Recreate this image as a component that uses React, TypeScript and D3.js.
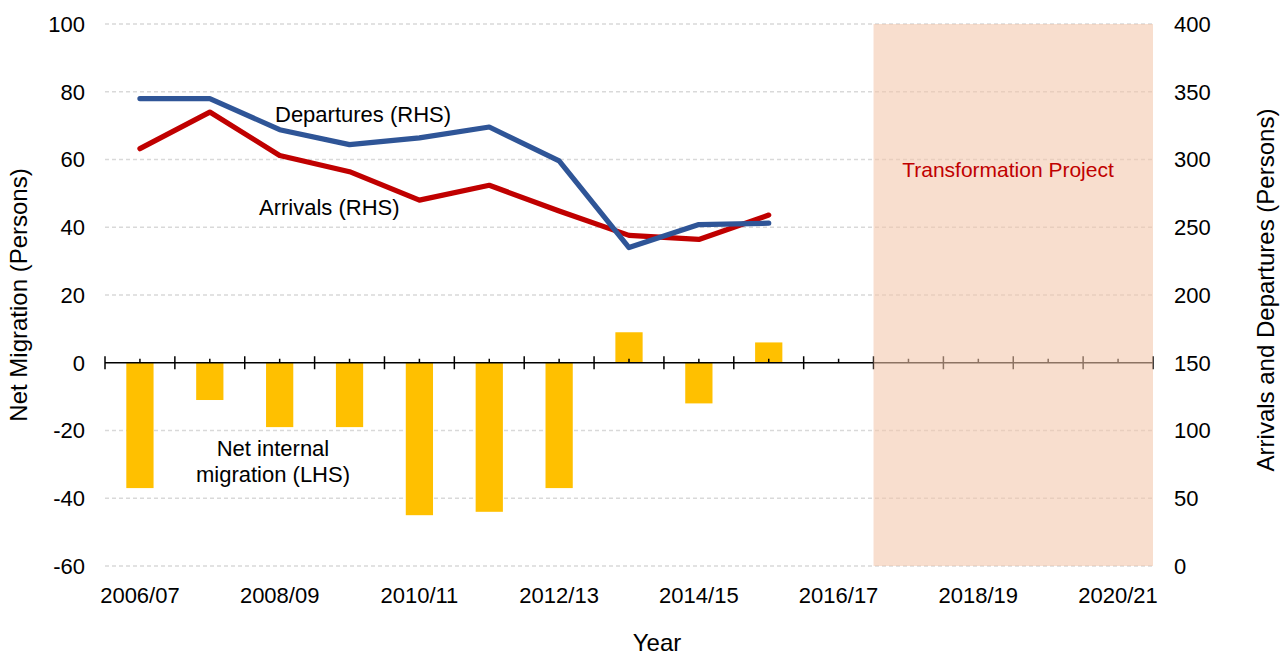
import React, { useEffect } from "react";
import * as d3 from "d3";

const categories = [
  "2006/07", "2007/08", "2008/09", "2009/10", "2010/11", "2011/12", "2012/13", "2013/14",
  "2014/15", "2015/16", "2016/17", "2017/18", "2018/19", "2019/20", "2020/21",
];
const dataYears = [
  "2006/07", "2007/08", "2008/09", "2009/10", "2010/11", "2011/12", "2012/13", "2013/14",
  "2014/15", "2015/16",
];
const netMigration = [-37, -11, -19, -19, -45, -44, -37, 9, -12, 6];
const departures = [345, 345, 322, 311, 316, 324, 299, 235, 252, 253];
const arrivals = [308, 335, 303, 291, 270, 281, 262, 244, 241, 259];
const leftTicks = [-60, -40, -20, 0, 20, 40, 60, 80, 100];
const rightTicks = [0, 50, 100, 150, 200, 250, 300, 350, 400];
const projectStart = "2017/18";

const W = 1286;
const H = 657;
const FONT = "'Liberation Sans', Arial, sans-serif";

export default function App() {
  useEffect(() => {
    document.body.style.margin = "0";
  }, []);

  const x = d3.scaleBand<string>().domain(categories).range([105, 1153]).padding(0);
  const yL = d3.scaleLinear().domain([-60, 100]).range([566, 24]);
  const yR = d3.scaleLinear().domain([0, 400]).range([566, 24]);
  const bw = x.bandwidth();
  const cx = (c: string) => (x(c) as number) + bw / 2;
  const y0 = yL(0);

  const line = d3
    .line<number>()
    .x((_, i) => cx(dataYears[i]))
    .y((d) => yR(d));

  const shadeX = x(projectStart) as number;
  const [plotL, plotR] = x.range();

  return (
    <svg
      width={W}
      height={H}
      style={{ position: "absolute", left: 0, top: 0, background: "#fff" }}
      fontFamily={FONT}
    >
      {/* gridlines */}
      {leftTicks
        .filter((t) => t !== 0)
        .map((t) => (
          <line
            key={"g" + t}
            x1={plotL}
            x2={plotR}
            y1={yL(t)}
            y2={yL(t)}
            stroke="#D9D9D9"
            strokeWidth={1.3}
            strokeDasharray="4,3"
          />
        ))}

      {/* bars */}
      {netMigration.map((v, i) => {
        const c = dataYears[i];
        const w = bw * 0.39;
        return (
          <rect
            key={"b" + c}
            x={cx(c) - w / 2}
            y={Math.min(yL(v), y0)}
            width={w}
            height={Math.abs(yL(v) - y0)}
            fill="#FFC000"
          />
        );
      })}

      {/* x axis */}
      <line x1={plotL} x2={plotR} y1={y0} y2={y0} stroke="#000" strokeWidth={1.5} />
      {categories.map((c) => (
        <line key={"tm" + c} x1={x(c) as number} x2={x(c) as number} y1={y0 - 6.5} y2={y0 + 6.5} stroke="#000" strokeWidth={1.5} />
      ))}
      <line x1={plotR} x2={plotR} y1={y0 - 6.5} y2={y0 + 6.5} stroke="#000" strokeWidth={1.5} />
      {categories.map((c) => (
        <line key={"tn" + c} x1={cx(c)} x2={cx(c)} y1={y0 - 4} y2={y0} stroke="#000" strokeWidth={1.5} />
      ))}

      {/* shaded transformation project */}
      <rect
        x={shadeX}
        y={yL(100)}
        width={plotR - shadeX}
        height={yL(-60) - yL(100)}
        fill="rgb(243,198,170)"
        fillOpacity={0.58}
      />

      {/* lines */}
      <path d={line(arrivals) || ""} fill="none" stroke="#C00000" strokeWidth={5.2} strokeLinejoin="round" strokeLinecap="round" />
      <path d={line(departures) || ""} fill="none" stroke="#2F5597" strokeWidth={5.2} strokeLinejoin="round" strokeLinecap="round" />

      {/* left tick labels */}
      {leftTicks.map((t) => (
        <text key={"lt" + t} x={85} y={yL(t)} dy="0.36em" textAnchor="end" fontSize={22} fill="#000">
          {t}
        </text>
      ))}
      {/* right tick labels */}
      {rightTicks.map((t) => (
        <text key={"rt" + t} x={1174} y={yR(t)} dy="0.36em" textAnchor="start" fontSize={22} fill="#000">
          {t}
        </text>
      ))}
      {/* x labels */}
      {categories.map((c, i) =>
        i % 2 === 0 ? (
          <text key={"xl" + c} x={cx(c)} y={603} textAnchor="middle" fontSize={22} fill="#000">
            {c}
          </text>
        ) : null
      )}

      {/* axis titles */}
      <text x={657} y={651} textAnchor="middle" fontSize={24} fill="#000">
        Year
      </text>
      <text
        transform={`translate(27,295) rotate(-90)`}
        textAnchor="middle"
        fontSize={24}
        fill="#000"
      >
        Net Migration (Persons)
      </text>
      <text
        transform={`translate(1274,290) rotate(-90)`}
        textAnchor="middle"
        fontSize={24}
        fill="#000"
      >
        Arrivals and Departures (Persons)
      </text>

      {/* annotations */}
      <text x={275} y={122} fontSize={22} fill="#000">Departures (RHS)</text>
      <text x={259} y={215} fontSize={22} fill="#000">Arrivals (RHS)</text>
      <text x={273} y={456} textAnchor="middle" fontSize={22} fill="#000">Net internal</text>
      <text x={273} y={482} textAnchor="middle" fontSize={22} fill="#000">migration (LHS)</text>
      <text x={1008} y={177} textAnchor="middle" fontSize={21} fill="#C00000">Transformation Project</text>
    </svg>
  );
}
